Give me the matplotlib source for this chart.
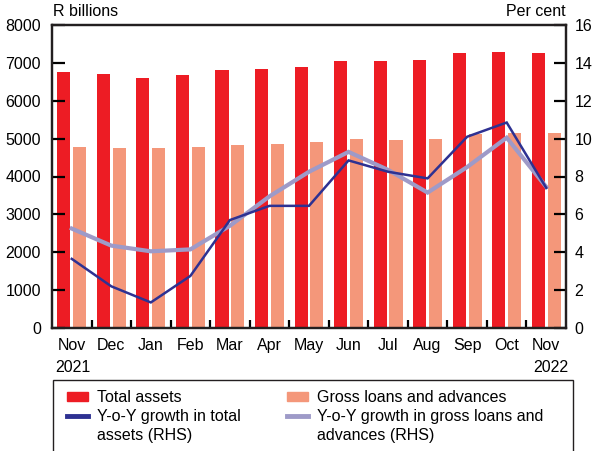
import numpy as np
import matplotlib.pyplot as plt
from matplotlib.patches import Patch, Rectangle
from matplotlib.lines import Line2D

plt.rcParams['font.family'] = ['Liberation Sans', 'DejaVu Sans']

# Data
months = ['Nov', 'Dec', 'Jan', 'Feb', 'Mar', 'Apr', 'May', 'Jun', 'Jul', 'Aug', 'Sep', 'Oct', 'Nov']
total_assets = [6760, 6700, 6600, 6680, 6810, 6840, 6890, 7045, 7045, 7070, 7255, 7285, 7255]
gross_loans = [4780, 4750, 4750, 4780, 4830, 4860, 4910, 4990, 4960, 4990, 5110, 5150, 5150]
growth_assets = [3.65, 2.2, 1.35, 2.75, 5.7, 6.45, 6.45, 8.85, 8.25, 7.9, 10.1, 10.85, 7.4]
growth_loans = [5.25, 4.35, 4.05, 4.15, 5.4, 6.95, 8.25, 9.3, 8.35, 7.15, 8.5, 10.05, 7.45]

red = '#ED1C24'
salmon = '#F4977A'
navy = '#2E3192'
lavender = '#9E9AC8'
fs = 11.5

W, H = 593, 451
fig = plt.figure(figsize=(W / 100, H / 100), dpi=100)
ax = fig.add_axes([52 / W, 1 - 328 / H, (566 - 52) / W, (328 - 25) / H])

x = np.arange(len(months))
ax.bar(x - 0.2, total_assets, width=0.33, color=red)
ax.bar(x + 0.2, gross_loans, width=0.33, color=salmon)
ax.set_xlim(-0.5, len(months) - 0.5)
ax.set_ylim(0, 8000)
ax.set_yticks(range(0, 8001, 1000))

ax2 = ax.twinx()
ax2.plot(x, growth_loans, color=lavender, lw=3, solid_joinstyle='miter')
ax2.plot(x, growth_assets, color=navy, lw=1.8, solid_joinstyle='miter')
ax2.set_ylim(0, 16)
ax2.set_yticks(range(0, 17, 2))

for a in (ax, ax2):
    for s in a.spines.values():
        s.set_linewidth(1.6)
        s.set_color('#231F20')

ax.set_xticks(x)
ax.set_xticklabels(months)
ax.set_xticks(np.arange(0.5, len(months) - 1), minor=True)
ax.tick_params(axis='x', which='major', length=0, pad=7, labelsize=fs)
ax.tick_params(axis='x', which='minor', direction='in', length=6, width=1.6)
ax.tick_params(axis='y', direction='in', length=9, width=1.6, pad=8, labelsize=fs)
ax2.tick_params(axis='y', direction='in', length=9, width=1.6, pad=6, labelsize=fs)

fig.text(53 / W, 1 - 12 / H, 'R billions', fontsize=fs, ha='left', va='center')
fig.text(566 / W, 1 - 12 / H, 'Per cent', fontsize=fs, ha='right', va='center')
fig.text(55 / W, 1 - 368 / H, '2021', fontsize=fs, ha='left', va='center')
fig.text(568 / W, 1 - 368 / H, '2022', fontsize=fs, ha='right', va='center')

# legend box
fig.add_artist(Rectangle((53 / W, -0.02), (573 - 53) / W, (1 - 380 / H) + 0.02,
                         transform=fig.transFigure, fill=False, lw=1, edgecolor='#231F20'))

blank = Line2D([], [], color='none')
h1 = [Patch(color=red), Line2D([], [], color=navy, lw=3.5), blank]
l1 = ['Total assets', 'Y-o-Y growth in total', 'assets (RHS)']
h2 = [Patch(color=salmon), Line2D([], [], color=lavender, lw=3.5), blank]
l2 = ['Gross loans and advances', 'Y-o-Y growth in gross loans and', 'advances (RHS)']

for hs, ls, x0 in ((h1, l1, 67), (h2, l2, 287)):
    leg = fig.legend(hs, ls, loc='upper left', bbox_to_anchor=(x0 / W, 1 - 390 / H),
                     frameon=False, borderpad=0, borderaxespad=0, handlelength=1.3,
                     handleheight=0.55, handletextpad=0.55, labelspacing=0.25, fontsize=fs)

fig.savefig('out.png', dpi=100)
